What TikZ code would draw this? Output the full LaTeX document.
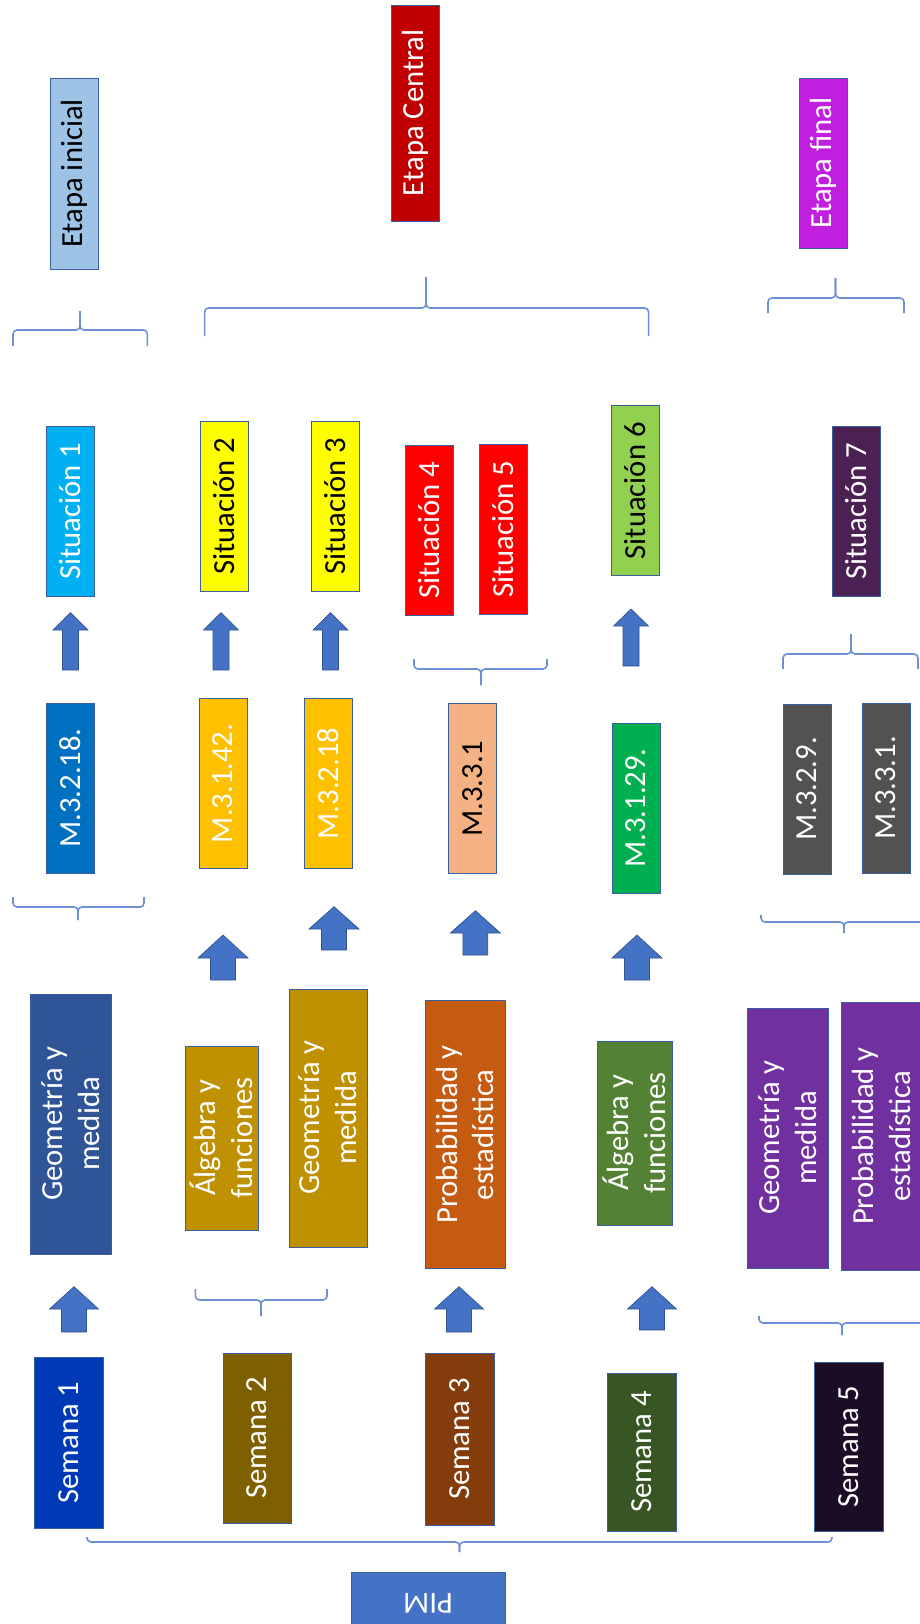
\documentclass[tikz,border=0pt]{standalone}
\usepackage{fontspec}
\setmainfont{Carlito}
\definecolor{cEI}{HTML}{9DC3E6}
\definecolor{cEC}{HTML}{C00000}
\definecolor{cEF}{HTML}{C01FE0}
\definecolor{cS1}{HTML}{00B0F0}
\definecolor{cYel}{HTML}{FFFF00}
\definecolor{cRed}{HTML}{FF0000}
\definecolor{cS6}{HTML}{92D050}
\definecolor{cS7}{HTML}{4A2152}
\definecolor{cM1}{HTML}{0070C0}
\definecolor{cM23}{HTML}{FFC000}
\definecolor{cM4}{HTML}{F4B183}
\definecolor{cM5}{HTML}{00B050}
\definecolor{cM67}{HTML}{525252}
\definecolor{cG1}{HTML}{2F5597}
\definecolor{cGold}{HTML}{BF9000}
\definecolor{cP4}{HTML}{C55A11}
\definecolor{cA5}{HTML}{548235}
\definecolor{cPurp}{HTML}{7030A0}
\definecolor{cW1}{HTML}{0039B5}
\definecolor{cW2}{HTML}{7F6000}
\definecolor{cW3}{HTML}{843C0C}
\definecolor{cW4}{HTML}{375623}
\definecolor{cW5}{HTML}{1B0D26}
\definecolor{cPIM}{HTML}{4472C4}
\definecolor{cArr}{HTML}{4472C4}
\definecolor{cArrB}{HTML}{2F528F}
\definecolor{cBrace}{HTML}{6C8FD6}
\definecolor{cBorder}{HTML}{3A5F9F}
\newcommand{\blockarr}[6]{%
  \draw[blockarrow] (#1,#2) -- (#1+#5,#3) -- (#1+#6,#3) -- (#1+#6,#4) -- (#1-#6,#4) -- (#1-#6,#3) -- (#1-#5,#3) -- cycle;}
\newcommand{\curlybr}[6]{%
  \draw[bracestyle] (#1,#4) -- (#1,#5) -- (#3,#5) -- (#3,#6);
  \draw[bracestyle] (#3,#6) -- (#3,#5) -- (#2,#5) -- (#2,#4);}
\begin{document}
\begin{tikzpicture}[x=0.75pt,y=-0.75pt,
  box/.style={draw=cBorder, line width=0.75pt, rotate=90, inner sep=0pt,
    font=\fontsize{23}{27.6}\selectfont, align=center},
  sitbox/.style={box, minimum width=127.5pt, minimum height=36pt},
  blockarrow/.style={fill=cArr, draw=cArrB, line width=0.5pt},
  bracestyle/.style={draw=cBrace, line width=1.2pt, rounded corners=3pt}]
\useasboundingbox (0,0) rectangle (920,1624);
\clip (0,0) rectangle (920,1624);
% etapas
\node[box, fill=cEI, text=black, minimum width=143.25pt, minimum height=36pt] (etapaI) at (74.6,173.5) {Etapa inicial};
\node[box, fill=cEC, text=white, minimum width=162pt, minimum height=36.4pt] (etapaC) at (415.7,113) {Etapa Central};
\node[box, fill=cEF, text=white, minimum width=127.5pt, minimum height=36pt] (etapaF) at (823,163) {Etapa final};
% situaciones
\node[sitbox, fill=cS1, text=white] (sit1) at (70,511) {Situación 1};
\node[sitbox, fill=cYel, text=black] (sit2) at (224,506) {Situación 2};
\node[sitbox, fill=cYel, text=black] (sit3) at (335,506) {Situación 3};
\node[sitbox, fill=cRed, text=white] (sit4) at (429,530.5) {Situación 4};
\node[sitbox, fill=cRed, text=white] (sit5) at (503,529) {Situación 5};
\node[sitbox, fill=cS6, text=black] (sit6) at (635.5,490.7) {Situación 6};
\node[sitbox, fill=cS7, text=white] (sit7) at (856,511) {Situación 7};
% destrezas
\node[sitbox, fill=cM1, text=white] (m1) at (70.5,788) {M.3.2.18.};
\node[sitbox, fill=cM23, text=white] (m2) at (223,783.5) {M.3.1.42.};
\node[sitbox, fill=cM23, text=white] (m3) at (328,783.5) {M.3.2.18};
\node[sitbox, fill=cM4, text=black] (m4) at (472.5,788.5) {M.3.3.1};
\node[sitbox, fill=cM5, text=white] (m5) at (636,808) {M.3.1.29.};
\node[sitbox, fill=cM67, text=white] (m6) at (807,789) {M.3.2.9.};
\node[sitbox, fill=cM67, text=white] (m7) at (886,788) {M.3.3.1.};
% bloques
\node[box, fill=cG1, text=white, minimum width=195pt, minimum height=60.75pt] (g1) at (70.5,1124) {Geometría y\\medida};
\node[box, fill=cGold, text=white, minimum width=138pt, minimum height=54.75pt] (a2) at (221.5,1138) {Álgebra y\\funciones};
\node[box, fill=cGold, text=white, minimum width=193.5pt, minimum height=58.5pt] (g3) at (328,1118) {Geometría y\\medida};
\node[box, fill=cP4, text=white, minimum width=201pt, minimum height=60pt] (p4) at (465,1134.7) {Probabilidad y\\estadística};
\node[box, fill=cA5, text=white, minimum width=138pt, minimum height=56.25pt] (a5) at (634.5,1133) {Álgebra y\\funciones};
\node[box, fill=cPurp, text=white, minimum width=195pt, minimum height=60.5pt] (g6) at (788,1138) {Geometría y\\medida};
\node[box, fill=cPurp, text=white, minimum width=201pt, minimum height=60pt] (p7) at (881.5,1136) {Probabilidad y\\estadística};
% semanas
\node[box, fill=cW1, text=white, minimum width=128.25pt, minimum height=51.75pt] (w1) at (68.5,1442.5) {Semana 1};
\node[box, fill=cW2, text=white, minimum width=127.5pt, minimum height=51pt] (w2) at (257,1438) {Semana 2};
\node[box, fill=cW3, text=white, minimum width=129pt, minimum height=51.75pt] (w3) at (459.5,1439) {Semana 3};
\node[box, fill=cW4, text=white, minimum width=118.5pt, minimum height=51.75pt] (w4) at (641.5,1452) {Semana 4};
\node[box, fill=cW5, text=white, minimum width=126.75pt, minimum height=52pt] (w5) at (849,1446.5) {Semana 5};
% PIM
\node[draw=cBorder, line width=0.75pt, fill=cPIM, text=white, rotate=180, inner sep=0pt,
  minimum width=115.5pt, minimum height=46.5pt, font=\fontsize{23}{27.6}\selectfont] (pim) at (428,1603) {PIM};
% flechas
\blockarr{70.5}{612.7}{630}{670}{17.5}{8}
\blockarr{221}{612.7}{630}{670}{17.5}{8}
\blockarr{330.5}{612.7}{630}{670}{17.5}{8}
\blockarr{631}{609}{626}{666}{17.5}{8}
\blockarr{223}{935}{958}{980}{25}{12.5}
\blockarr{334}{906.7}{929}{950}{25}{12.5}
\blockarr{475.4}{910.7}{933}{955}{25}{12.5}
\blockarr{637}{935}{958}{980}{25}{12.5}
\blockarr{74}{1286.7}{1309}{1332}{24.5}{12.5}
\blockarr{459}{1286.7}{1309}{1332}{24.5}{12.5}
\blockarr{652}{1286.7}{1309}{1330}{24.5}{12.5}
% llaves
\curlybr{13}{147.4}{80}{346}{330}{311}
\curlybr{204.6}{648.6}{426}{336}{308}{277}
\curlybr{768}{904}{835.5}{313}{298}{278}
\curlybr{414}{547}{481}{659}{669}{685}
\curlybr{783}{918}{851}{669}{654}{634}
\curlybr{13}{144}{78}{897}{907}{920}
\curlybr{761}{935}{844}{915}{922}{933}
\curlybr{195.4}{327}{261}{1289}{1300}{1316}
\curlybr{759}{935}{842}{1316}{1323}{1335}
\curlybr{87}{832}{459.5}{1537}{1542}{1552}
\end{tikzpicture}
\end{document}
